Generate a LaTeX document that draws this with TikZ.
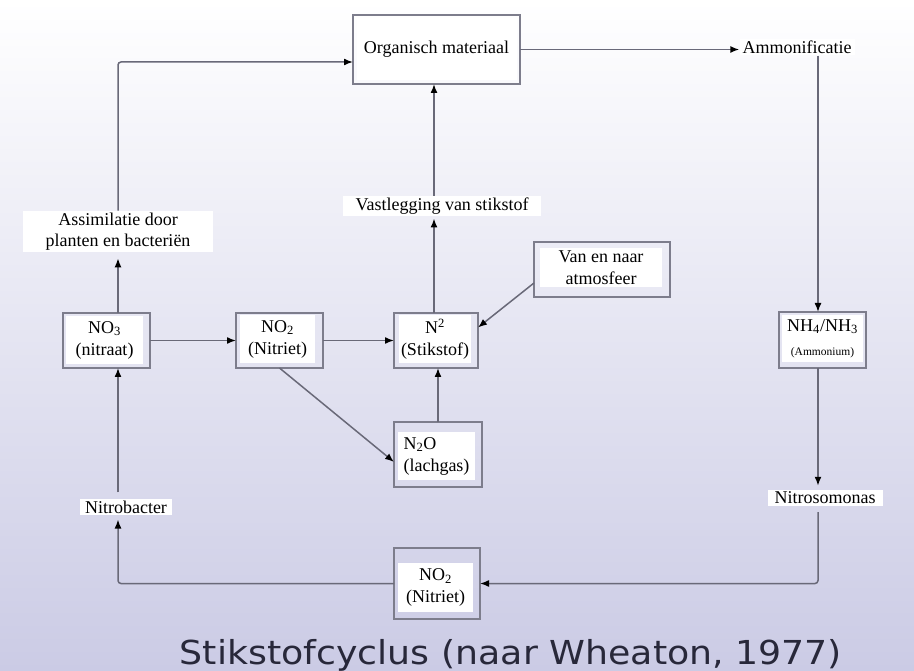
\documentclass[tikz,border=0pt]{standalone}
\usepackage{fontspec}
\setmainfont{Liberation Serif}
\newfontfamily\titlefont{DejaVu Sans}
\usetikzlibrary{arrows.meta,calc}
\definecolor{boxc}{RGB}{125,125,140}
\definecolor{linec}{RGB}{105,105,120}
\definecolor{bgtop}{RGB}{255,255,255}
\definecolor{bgmid}{RGB}{230,230,243}
\definecolor{bgbot}{RGB}{203,203,229}
\definecolor{titlec}{RGB}{40,40,58}
\tikzset{
  boxnode/.style={draw=boxc, line width=1.6pt, inner sep=0pt, outer sep=0pt},
  txt/.style={fill=white, inner sep=2pt, align=center, font=\fontsize{18}{22}\selectfont},
  conn/.style={draw=linec, line width=1.5pt, -{Latex[length=9pt,width=7pt,color=black]}},
}
\begin{document}
\begin{tikzpicture}[x=1pt,y=-1pt]
\shade[top color=bgtop, middle color=bgmid, bottom color=bgbot] (0,0) rectangle (914,671);
\useasboundingbox (0,0) rectangle (914,671);

% column coordinates
\coordinate (colL) at (118,0);
\coordinate (colM) at (434,0);
\coordinate (colR) at (818,0);

% boxes
\node[boxnode, minimum width=167pt, minimum height=69pt] (org) at (436.5,49.5) {};
\node[txt, minimum width=160pt, minimum height=62pt] (orgT) at (org.center) {Organisch materiaal};

\node[boxnode, minimum width=87pt, minimum height=55pt] (no3) at (106.5,340.5) {};
\node[txt, minimum width=77pt, minimum height=48pt] (no3T) at (104.5,340) {NO\textsubscript{3}\\(nitraat)};

\node[boxnode, minimum width=87pt, minimum height=55pt] (no2) at (279.5,340.5) {};
\node[txt, minimum width=75pt, minimum height=48pt] (no2T) at (277.5,339) {NO\textsubscript{2}\\(Nitriet)};

\node[boxnode, minimum width=84pt, minimum height=55pt] (n2) at (436,340.5) {};
\node[txt, minimum width=72pt, minimum height=48pt] (n2T) at (435,339) {N\textsuperscript{2}\\(Stikstof)};

\node[boxnode, minimum width=88pt, minimum height=65pt] (n2o) at (438,454.5) {};
\node[txt, align=left, minimum width=77pt, minimum height=48pt] (n2oT) at (436.5,456) {N\textsubscript{2}O\\(lachgas)};

\node[boxnode, minimum width=136pt, minimum height=55pt] (atm) at (602,269.5) {};
\node[txt, minimum width=122pt, minimum height=39pt] (atmT) at (601,267.5) {Van en naar\\atmosfeer};

\node[boxnode, minimum width=87pt, minimum height=56pt] (nh4) at (822.5,340) {};
\node[txt, minimum width=81pt, minimum height=47pt, font=\fontsize{18}{24}\selectfont] (nh4T) at (822.5,338.5) {NH\textsubscript{4}/NH\textsubscript{3}\\{\fontsize{11.5}{14}\selectfont(Ammonium)}};

\node[boxnode, minimum width=86pt, minimum height=71pt] (no2b) at (437,583.5) {};
\node[txt, minimum width=75pt, minimum height=49pt] (no2bT) at (435.5,587.5) {NO\textsubscript{2}\\(Nitriet)};

% labels
\node[txt, minimum width=115pt] (amm) at (797,47) {Ammonificatie};
\node[txt, minimum width=190pt, font=\fontsize{18}{21}\selectfont] (assim) at (118,231.5) {Assimilatie door\\planten en bacteriën};
\node[txt, minimum width=198pt] (vast) at (442,206) {Vastlegging van stikstof};
\node[txt, minimum width=115pt] (nitroso) at (825,498) {Nitrosomonas};
\node[txt, minimum width=92pt] (nitrob) at (126,507) {Nitrobacter};

\coordinate (orgIn) at ($(org.west)+(0,12.5)$);

% connectors
\draw[conn, rounded corners=3pt] (colL |- assim.north) |- (orgIn);
\draw[conn] (colM |- vast.north) -- (colM |- org.south);
\draw[conn] (org.east) -- (org.east -| amm.west);
\draw[conn] (colR |- amm.south) -- (colR |- nh4.north);
\draw[conn] (colR |- nh4.south) -- ($(colR |- nitroso.north)+(0,-4)$);
\draw[conn, rounded corners=3pt] ($(colR |- nitroso.south)+(0,6)$) |- (no2b.east);
\draw[conn, rounded corners=3pt] (no2b.west) -| ($(colL |- nitrob.south)+(0,4)$);
\draw[conn] ($(colL |- nitrob.north)+(0,-6)$) -- (colL |- no3.south);
\draw[conn] (colL |- no3.north) -- ($(colL |- assim.south)+(0,6)$);
\draw[conn] (no3.east) -- (no2.west);
\draw[conn] (no2.east) -- (n2.west);
\draw[conn] (no2.south) -- ($(n2o.west)+(0,7.5)$);
\draw[conn] (n2o.north) -- (n2o.north |- n2.south);
\draw[conn] ($(atm.south west)+(0,-14)$) -- ($(n2.east)+(0,-13)$);
\draw[conn] (colM |- n2.north) -- ($(colM |- vast.south)+(0,2)$);

% title
\node[anchor=base, text=titlec, inner sep=0pt, xscale=1.1, font=\titlefont\fontsize{33}{33}\selectfont] (title) at (511,664) {Stikstofcyclus (naar Wheaton, 1977)};
\end{tikzpicture}
\end{document}
